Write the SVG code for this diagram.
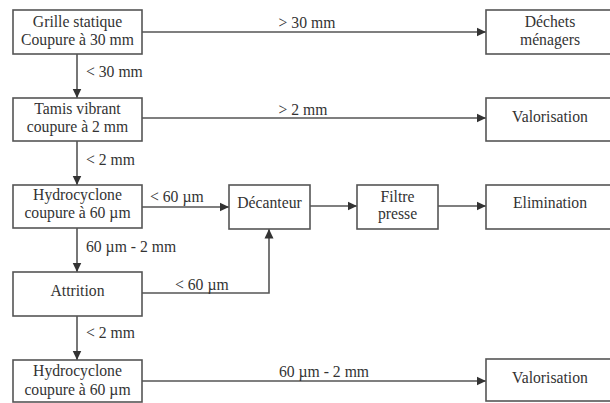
<svg xmlns="http://www.w3.org/2000/svg" width="610" height="403" viewBox="0 0 610 403" font-family="'Liberation Serif', 'Times New Roman', serif" font-size="15.5">
<style>
.box{fill:#fff;stroke:#555;stroke-width:1.6}
.c{fill:none;stroke:#555;stroke-width:1.6}
.t{font-family:'Liberation Serif','Times New Roman',serif;font-size:15.7px;fill:#333}
.m{text-anchor:middle}
</style>
<defs>
<marker id="ah" markerUnits="userSpaceOnUse" markerWidth="10" markerHeight="10" refX="9.5" refY="5" orient="auto">
<path d="M0,0.5 L9.5,5 L0,9.5 Z" fill="#333"/>
</marker>
</defs>
<rect width="610" height="403" fill="#fff"/>
<g id="connectors">
<path class="c" d="M142,32 H486" marker-end="url(#ah)"/>
<path class="c" d="M77,54 V98" marker-end="url(#ah)"/>
<path class="c" d="M142,118 H486" marker-end="url(#ah)"/>
<path class="c" d="M77,141 V185" marker-end="url(#ah)"/>
<path class="c" d="M142,207 H229" marker-end="url(#ah)"/>
<path class="c" d="M310,206 H357" marker-end="url(#ah)"/>
<path class="c" d="M438,206 H486" marker-end="url(#ah)"/>
<path class="c" d="M77,228 V272" marker-end="url(#ah)"/>
<path class="c" d="M142,293 H269 V229" marker-end="url(#ah)"/>
<path class="c" d="M77,316 V360" marker-end="url(#ah)"/>
<path class="c" d="M142,381 H486" marker-end="url(#ah)"/>
<text class="t m" x="307" y="28">&gt; 30 mm</text>
<text class="t" x="86" y="77">&lt; 30 mm</text>
<text class="t m" x="303" y="115">&gt; 2 mm</text>
<text class="t" x="86" y="165">&lt; 2 mm</text>
<text class="t" x="150" y="202">&lt; 60 µm</text>
<text class="t" x="86" y="252">60 µm - 2 mm</text>
<text class="t" x="175" y="290">&lt; 60 µm</text>
<text class="t" x="86" y="338">&lt; 2 mm</text>
<text class="t m" x="324" y="377">60 µm - 2 mm</text>
</g>
<g id="grille">
<rect class="box" x="13" y="10" width="129" height="44"/>
<text class="t m" x="77.5" y="27">Grille statique</text>
<text class="t m" x="77.5" y="45">Coupure à 30 mm</text>
</g>
<g id="tamis">
<rect class="box" x="13" y="98" width="129" height="43"/>
<text class="t m" x="77.5" y="114">Tamis vibrant</text>
<text class="t m" x="77.5" y="132">coupure à 2 mm</text>
</g>
<g id="hydro1">
<rect class="box" x="13" y="185" width="129" height="43"/>
<text class="t m" x="77.5" y="200">Hydrocyclone</text>
<text class="t m" x="77.5" y="218">coupure à 60 µm</text>
</g>
<g id="attrition">
<rect class="box" x="13" y="272" width="129" height="44"/>
<text class="t m" x="77.5" y="296">Attrition</text>
</g>
<g id="hydro2">
<rect class="box" x="13" y="360" width="129" height="42"/>
<text class="t m" x="77.5" y="376">Hydrocyclone</text>
<text class="t m" x="77.5" y="395">coupure à 60 µm</text>
</g>
<g id="decanteur">
<rect class="box" x="229" y="185" width="81" height="44"/>
<text class="t m" x="269.5" y="208">Décanteur</text>
</g>
<g id="filtre">
<rect class="box" x="357" y="185" width="81" height="44"/>
<text class="t m" x="397.5" y="202">Filtre</text>
<text class="t m" x="397.5" y="219">presse</text>
</g>
<g id="dechets">
<rect class="box" x="486" y="10" width="129" height="44"/>
<text class="t m" x="550" y="27">Déchets</text>
<text class="t m" x="550" y="45">ménagers</text>
</g>
<g id="valorisation1">
<rect class="box" x="486" y="98" width="129" height="43"/>
<text class="t m" x="550" y="122">Valorisation</text>
</g>
<g id="elimination">
<rect class="box" x="486" y="185" width="129" height="44"/>
<text class="t m" x="550" y="208">Elimination</text>
</g>
<g id="valorisation2">
<rect class="box" x="486" y="359" width="129" height="42"/>
<text class="t m" x="550" y="383">Valorisation</text>
</g>
</svg>
